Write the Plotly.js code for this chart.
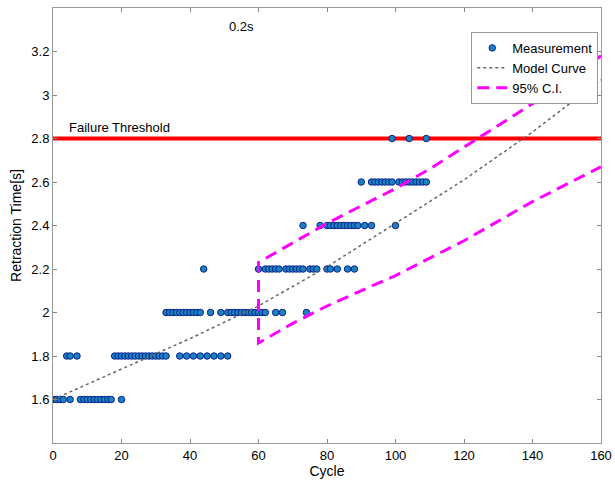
<!DOCTYPE html>
<html>
<head>
<meta charset="utf-8">
<script src="https://cdn.plot.ly/plotly-3.0.1.min.js"></script>
<style>html,body{margin:0;padding:0;background:#fff;}#chart{width:615px;height:486px;}</style>
</head>
<body>
<div id="chart"></div>
<script>
// Measurements: cycles observed at each retraction-time level
const cycles16 = [0,1,2,3,5,8,9,10,11,12,13,14,15,16,17,20];
const cycles18 = [4,5,7,18,19,20,21,22,23,24,25,26,27,28,29,30,31,32,33,37,39,41,43,45,47,49,51];
const cycles20 = [33,34,35,36,37,38,39,40,41,42,43,46,49,51,52,53,54,55,56,57,58,59,60,61,62,65,67,74];
const cycles22 = [44,60,62,63,64,65,66,68,69,70,71,72,73,75,76,77,80,81,83,86,88];
const cycles24 = [73,78,80,81,82,83,84,85,86,87,88,89,91,93,100];
const cycles26 = [90,93,94,95,96,97,98,99,101,102,103,104,105,106,107,108,109];
const cycles28 = [99,104,109];
const levels = [1.6, 1.8, 2.0, 2.2, 2.4, 2.6, 2.8];

// Model curve
const modelCycles = [0,20,40,60,80,100,120,140,160];
const modelValues = [1.6,1.74,1.88,2.03,2.21,2.41,2.61,2.83,3.07];

// 95% confidence interval
const ciCycles = [60,70,80,90,100,110,120,130,140,150,160];
const ciUpper = [2.23,2.32,2.41,2.49,2.57,2.66,2.76,2.86,2.96,3.07,3.18];
const ciLower = [1.86,1.95,2.03,2.10,2.17,2.25,2.33,2.42,2.51,2.59,2.67];

const threshold = 2.8;
const xTicks = [0,20,40,60,80,100,120,140,160];
const yTicks = [1.6,1.8,2.0,2.2,2.4,2.6,2.8,3.0,3.2];
const yTickLabels = ["1.6","1.8","2","2.2","2.4","2.6","2.8","3","3.2"];

const groups = [cycles16,cycles18,cycles20,cycles22,cycles24,cycles26,cycles28];
const mx = [], my = [];
groups.forEach((g,i)=>g.forEach(c=>{mx.push(c); my.push(levels[i]);}));

const font = {family:'Arial, "Liberation Sans", sans-serif', color:'#000'};

const traces = [
  {x:[0,160], y:[threshold,threshold], mode:'lines', line:{color:'#ff0000', width:4}, showlegend:false, hoverinfo:'skip'},
  {x:mx, y:my, mode:'markers', name:'Measurement',
   marker:{symbol:'circle', size:6.5, color:'#1b82c0', line:{color:'#0a1f8f', width:1}}},
  {x:modelCycles, y:modelValues, mode:'lines', name:'Model Curve',
   line:{color:'#666', width:1.5, dash:'dot'}},
  {x:ciCycles.slice().reverse().concat(ciCycles),
   y:ciUpper.slice().reverse().concat(ciLower),
   mode:'lines', name:'95% C.I.', line:{color:'#ff00ff', width:3, dash:'12px,7px'}}
];

const axisCommon = {showgrid:false, zeroline:false, ticks:'inside', ticklen:4, tickcolor:'#888',
  showline:true, linecolor:'#999', linewidth:1, mirror:'ticks', tickfont:{...font, size:13}};

const layout = {
  width:615, height:486,
  margin:{l:53, r:14, t:8, b:43},
  paper_bgcolor:'#fff', plot_bgcolor:'#fff',
  font:font,
  xaxis:{...axisCommon, range:[0,160], tickvals:xTicks, ticktext:xTicks.map(String),
    title:{text:'Cycle', font:{...font, size:14}, standoff:2}},
  yaxis:{...axisCommon, range:[1.4,3.4], tickvals:yTicks, ticktext:yTickLabels,
    title:{text:'Retraction Time[s]', font:{...font, size:14}, standoff:6}},
  legend:{x:0.995, y:0.945, xanchor:'right', yanchor:'top', bgcolor:'#fff',
    bordercolor:'#999', borderwidth:1, font:{...font, size:13}, tracegroupgap:0, itemwidth:30},
  annotations:[
    {x:4, y:threshold, xref:'x', yref:'y', text:'Failure Threshold', showarrow:false,
     xanchor:'left', yanchor:'bottom', yshift:2, font:{...font, size:13}},
    {x:55, y:3.315, xref:'x', yref:'y', text:'0.2s', showarrow:false,
     xanchor:'center', yanchor:'middle', font:{...font, size:13}}
  ],
  showlegend:true
};

Plotly.newPlot('chart', traces, layout, {displayModeBar:false, staticPlot:true});
</script>
</body>
</html>
